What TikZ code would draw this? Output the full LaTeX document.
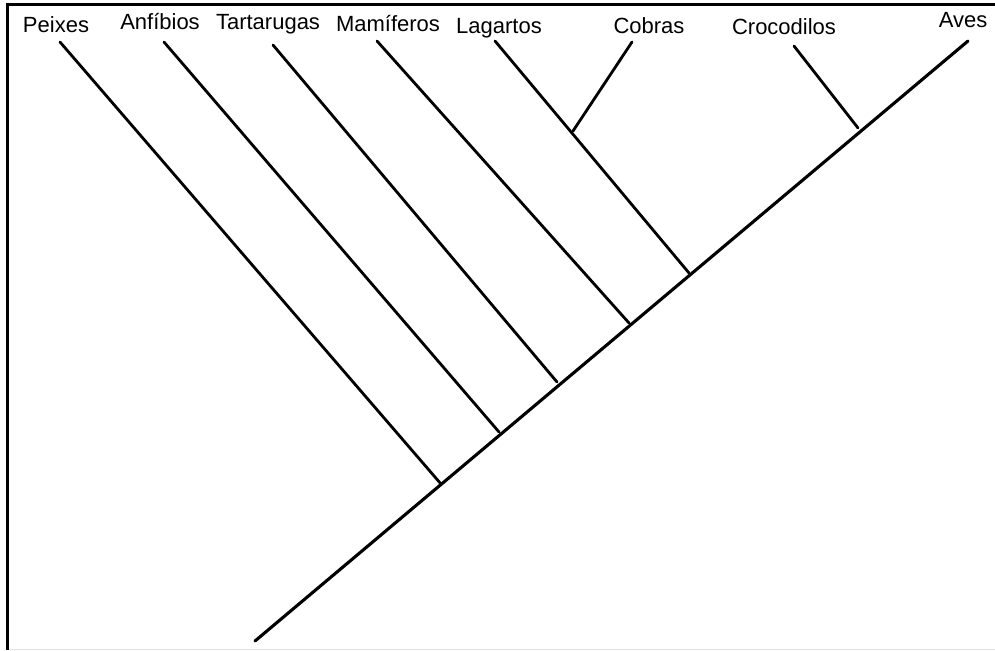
\documentclass[tikz,border=0pt]{standalone}
\usepackage{fontspec}
\setmainfont{Liberation Sans}
\begin{document}
\begin{tikzpicture}[x=1pt,y=-1pt,
  taxon/.style={anchor=base,inner sep=0pt,font=\fontsize{22}{26}\selectfont},
  branch/.style={line width=2.8pt,line cap=round},
  trunk/.style={line width=3.1pt,line cap=round},
  rule/.style={line width=3pt}]
\useasboundingbox (0,0) rectangle (995,650);
\fill[white] (0,0) rectangle (995,650);
% frame: heavy rules on the left and top, faint rule at the bottom
\coordinate (cornerTL) at (7,5);
\coordinate (cornerTR) at (995,5);
\coordinate (cornerBL) at (7,650);
\coordinate (cornerBR) at (995,649.5);
\draw[rule] (cornerBL) -- (cornerTL) -- (cornerTR);
\draw[line width=1pt,black!12] (9,649.5) -- (cornerBR);

% taxon labels
\node[taxon] (peixes) at (56,33) {Peixes};
\node[taxon] (anfibios) at (160,30) {Anfíbios};
\node[taxon] (tartarugas) at (268,30) {Tartarugas};
\node[taxon] (mamiferos) at (388,32) {Mamíferos};
\node[taxon] (lagartos) at (499,34) {Lagartos};
\node[taxon] (cobras) at (649,34) {Cobras};
\node[taxon] (crocodilos) at (784,35) {Crocodilos};
\node[taxon] (aves) at (963,28) {Aves};

% branch tips
\coordinate (tPeixes) at (60,42);
\coordinate (tAnfibios) at (164,42);
\coordinate (tTartarugas) at (273,45);
\coordinate (tMamiferos) at (377,41);
\coordinate (tLagartos) at (495,41);
\coordinate (tCobras) at (632,42);
\coordinate (tCrocodilos) at (794,46);
\coordinate (tAves) at (968,41);

% root and internal nodes
\coordinate (root) at (255,641);
\coordinate (n1) at (441,484);
\coordinate (n2) at (499,432);
\coordinate (n3) at (557,382);
\coordinate (n4) at (629,323);
\coordinate (n5) at (689,273);
\coordinate (n6) at (858,128);
\coordinate (nSq) at (573,131);

% main stem
\draw[trunk] (root) -- (tAves);
% side branches
\draw[branch] (tPeixes) -- (n1);
\draw[branch] (tAnfibios) -- (n2);
\draw[branch] (tTartarugas) -- (n3);
\draw[branch] (tMamiferos) -- (n4);
\draw[branch] (tLagartos) -- (n5);
\draw[branch] (tCobras) -- (nSq);
\draw[branch] (tCrocodilos) -- (n6);
\end{tikzpicture}
\end{document}
